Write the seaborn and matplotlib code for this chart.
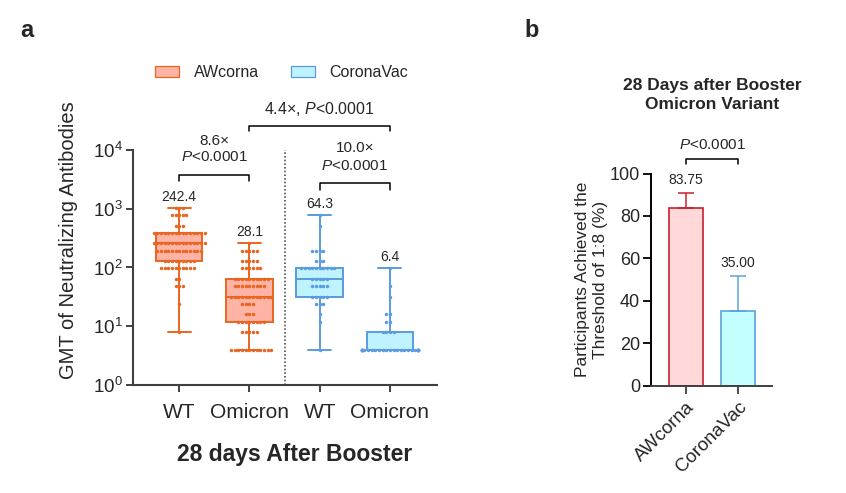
import numpy as np
import pandas as pd
import matplotlib
matplotlib.use("Agg")
import matplotlib.pyplot as plt
from matplotlib.patches import Patch
import seaborn as sns

# ---------------- data ----------------
conds = ["AW_WT", "AW_Omi", "CV_WT", "CV_Omi"]
tick_labels = ["WT", "Omicron", "WT", "Omicron"]
vaccines = ["AWcorna", "CoronaVac"]

aw_wt_titers = [1024, 768, 512, 384, 256, 192, 128, 96, 64, 48, 24, 8]
aw_wt_counts = [3, 5, 3, 15, 15, 13, 9, 10, 2, 3, 1, 1]
aw_omi_titers = [256, 192, 128, 96, 64, 48, 32, 24, 16, 12, 8, 4]
aw_omi_counts = [1, 5, 5, 6, 10, 9, 12, 4, 3, 8, 5, 12]
cv_wt_titers = [768, 512, 192, 128, 96, 64, 48, 32, 24, 16, 12, 4]
cv_wt_counts = [1, 1, 4, 3, 10, 5, 5, 5, 3, 1, 1, 1]
cv_omi_titers = [96, 48, 32, 16, 12, 8, 4]
cv_omi_counts = [1, 1, 1, 2, 2, 4, 29]

gmt = [242.4, 28.1, 64.3, 6.4]
fold_labels = ["8.6×", "10.0×", "4.4×"]
p_label = "$\\it{P}$<0.0001"

pct = [83.75, 35.00]
ci_upper = [91.0, 51.7]

# ---------------- style ----------------
sns.set_style("white")
plt.rcParams["font.family"] = ["Liberation Sans", "DejaVu Sans"]
plt.rcParams["mathtext.fontset"] = "custom"
plt.rcParams["mathtext.rm"] = "Liberation Sans"
plt.rcParams["mathtext.it"] = "Liberation Sans:italic"
plt.rcParams["mathtext.bf"] = "Liberation Sans:bold"

fill = {"AWcorna": "#FDB3A6", "CoronaVac": "#BFF3FF"}
edge = {"AWcorna": "#E8661F", "CoronaVac": "#5A9BE2"}
bar_fill = ["#FFD9DA", "#C4FFFF"]
bar_edge = ["#C8202F", "#5BA3DC"]
spine_c = "#404040"

rows = []
for cond, vac, tit, cnt in [
    ("AW_WT", "AWcorna", aw_wt_titers, aw_wt_counts),
    ("AW_Omi", "AWcorna", aw_omi_titers, aw_omi_counts),
    ("CV_WT", "CoronaVac", cv_wt_titers, cv_wt_counts),
    ("CV_Omi", "CoronaVac", cv_omi_titers, cv_omi_counts),
]:
    for v in np.repeat(tit, cnt):
        rows.append({"cond": cond, "vaccine": vac, "titer": float(v)})
df = pd.DataFrame(rows)

fig = plt.figure(figsize=(8.46, 4.93), dpi=100)

# ---------------- panel a ----------------
ax = fig.add_axes([0.157, 0.219, 0.3595, 0.477])
ax.set_yscale("log")
for vac in vaccines:
    sub = df[df["vaccine"] == vac]
    sns.boxplot(data=sub, x="cond", y="titer", order=conds, color=fill[vac],
                linecolor=edge[vac], linewidth=1.4, whis=(0, 100), width=0.66,
                saturation=1, fliersize=0, ax=ax)
    sns.swarmplot(data=sub, x="cond", y="titer", order=conds, color=edge[vac],
                  size=2.5, linewidth=0, ax=ax, warn_thresh=1)

ax.set_ylim(1, 1e4)
ax.set_xlim(-0.66, 3.67)
ax.set_xticks(range(len(conds)))
ax.set_xticklabels(tick_labels, fontsize=15)
ax.set_yticks([1, 10, 100, 1000, 10000])
ax.minorticks_off()
ax.tick_params(axis="y", labelsize=13.5, length=5, width=1.4, color=spine_c, left=True, pad=2)
ax.tick_params(axis="x", length=5, width=1.4, color=spine_c, bottom=True, pad=8)
ax.set_xlabel("28 days After Booster", fontsize=16.5, fontweight="bold")
ax.xaxis.set_label_coords(0.533, -0.245)
ax.set_ylabel("GMT of Neutralizing Antibodies", fontsize=14.5)
ax.yaxis.set_label_coords(-0.181, 0.617)
for s in ["top", "right"]:
    ax.spines[s].set_visible(False)
for s in ["left", "bottom"]:
    ax.spines[s].set_color(spine_c)
    ax.spines[s].set_linewidth(1.5)
ax.axvline(1.5, color="#555555", lw=1.2, ls=(0, (1, 1.2)), ymin=0, ymax=1.0)

# GMT labels above max whisker
for i, c in enumerate(conds):
    top = df.loc[df["cond"] == c, "titer"].max()
    ax.annotate(f"{gmt[i]:.1f}", (i, top), xytext=(0, 3), textcoords="offset points",
                ha="center", va="bottom", fontsize=10)

tr = ax.get_xaxis_transform()
def bracket(x0, x1, y, yt):
    ax.plot([x0, x0, x1, x1], [yt, y, y, yt], color="black", lw=1.1,
            transform=tr, clip_on=False)

bracket(0, 1, 0.894, 0.868)
ax.text(0.5, 1.038, fold_labels[0], transform=tr, ha="center", va="center", fontsize=11)
ax.text(0.5, 0.970, p_label, transform=tr, ha="center", va="center", fontsize=11)
bracket(2, 3, 0.860, 0.830)
ax.text(2.5, 1.009, fold_labels[1], transform=tr, ha="center", va="center", fontsize=11)
ax.text(2.5, 0.932, p_label, transform=tr, ha="center", va="center", fontsize=11)
bracket(1, 3, 1.102, 1.081)
ax.text(2.0, 1.174, fold_labels[2] + ", " + p_label, transform=tr, ha="center",
        va="center", fontsize=11.5)

handles = [Patch(facecolor=fill[v], edgecolor=edge[v], lw=0.9, label=v) for v in vaccines]
fig.legend(handles=handles, loc="center", bbox_to_anchor=(0.333, 0.852), ncol=2,
           frameon=False, fontsize=11.5, handlelength=1.5, handleheight=0.7,
           columnspacing=2.0, handletextpad=0.9)

# ---------------- panel b ----------------
bx = fig.add_axes([0.7695, 0.2177, 0.143, 0.4303])
bdf = pd.DataFrame({"vaccine": vaccines, "pct": pct})
sns.barplot(data=bdf, x="vaccine", y="pct", hue="vaccine", palette=bar_fill,
            width=0.65, saturation=1, legend=False, ax=bx)
for i, p in enumerate(bx.patches):
    p.set_edgecolor(bar_edge[i])
    p.set_linewidth(1.2)
for i in range(len(vaccines)):
    bx.errorbar(i, pct[i], yerr=[[0], [ci_upper[i] - pct[i]]], fmt="none",
                ecolor=bar_edge[i], elinewidth=1.1, capsize=5.5, capthick=1.1)
    bx.annotate(f"{pct[i]:.2f}", (i, ci_upper[i]), xytext=(0, 4),
                textcoords="offset points", ha="center", va="bottom", fontsize=10)
bx.set_ylim(0, 100)
bx.set_xlim(-0.67, 1.65)
bx.set_yticks([0, 20, 40, 60, 80, 100])
bx.tick_params(axis="y", labelsize=13, length=6, width=1.3, color="black", left=True, pad=2)
bx.tick_params(axis="x", labelsize=13.5, length=6, width=1.3, color=spine_c, bottom=True)
plt.setp(bx.get_xticklabels(), rotation=45, ha="right", rotation_mode="anchor")
bx.set_xlabel("")
bx.set_ylabel("Participants Achieved the\nThreshold of 1:8 (%)", fontsize=12.5,
              linespacing=1.25)
bx.yaxis.set_label_coords(-0.355, 0.5)
for s in ["top", "right"]:
    bx.spines[s].set_visible(False)
bx.spines["left"].set_color("black")
bx.spines["bottom"].set_color(spine_c)
for s in ["left", "bottom"]:
    bx.spines[s].set_linewidth(1.4)

btr = bx.get_xaxis_transform()
bx.plot([0, 0, 1, 1], [1.045, 1.068, 1.068, 1.045], color="black", lw=1.1,
        transform=btr, clip_on=False)
bx.text(0.5, 1.134, p_label, transform=btr, ha="center", va="center", fontsize=11)
bx.text(0.5, 1.37, "28 Days after Booster\nOmicron Variant", transform=btr,
        ha="center", va="center", fontsize=12.5, fontweight="bold", linespacing=1.3)

fig.text(0.032, 0.939, "a", fontsize=17, fontweight="bold", ha="center", va="center")
fig.text(0.628, 0.939, "b", fontsize=17, fontweight="bold", ha="center", va="center")

fig.savefig("out.png", dpi=100)
